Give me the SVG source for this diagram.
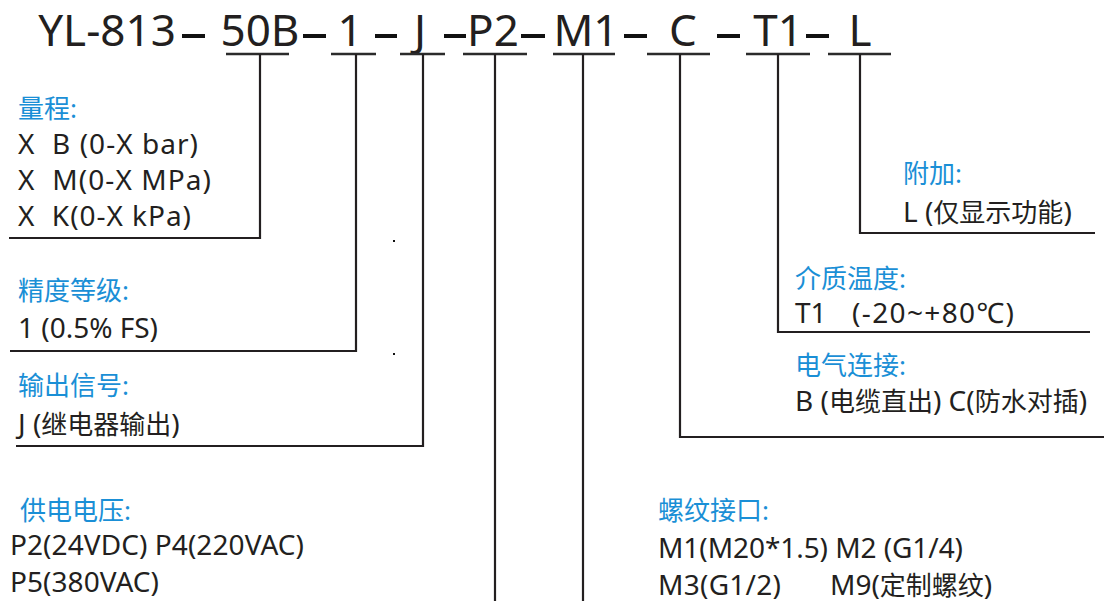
<svg xmlns="http://www.w3.org/2000/svg" width="1104" height="601" viewBox="0 0 1104 601">
<style>
.t{font-family:"Noto Sans","Noto Sans CJK SC",sans-serif;fill:#231f20}
.title{font-size:44px}
.h{font-family:"Noto Sans","Noto Sans CJK SC",sans-serif;fill:#1a8fd6;font-size:26px}
.b{font-size:28px}
.k{font-size:26px}
.u{stroke:#2b2b2b;stroke-width:2.5;fill:none}
.c{stroke:#231f20;stroke-width:2.2;fill:none}
.d{fill:#111}
</style>
<rect width="1104" height="601" fill="#fff"/>
<g id="code">
<text class="t title" x="107" y="46" text-anchor="middle">YL-813</text>
<text class="t title" x="260" y="46" text-anchor="middle">50B</text>
<text class="t title" x="350" y="46" text-anchor="middle">1</text>
<text class="t title" x="420" y="46" text-anchor="middle">J</text>
<text class="t title" x="493" y="46" text-anchor="middle">P2</text>
<text class="t title" x="586" y="46" text-anchor="middle">M1</text>
<text class="t title" x="683" y="46" text-anchor="middle">C</text>
<text class="t title" x="778" y="46" text-anchor="middle">T1</text>
<text class="t title" x="860" y="46" text-anchor="middle">L</text>
<rect class="d" x="182" y="34" width="23" height="4"/>
<rect class="d" x="303" y="34" width="23" height="4"/>
<rect class="d" x="375" y="34" width="22" height="4"/>
<rect class="d" x="444" y="34" width="22" height="4"/>
<rect class="d" x="521" y="34" width="24" height="4"/>
<rect class="d" x="624" y="34" width="23" height="4"/>
<rect class="d" x="717" y="34" width="23" height="4"/>
<rect class="d" x="806" y="34" width="23" height="4"/>
<path class="u" d="M226 54H289M331 54H376M400 54H445M463 54H527M553 54H615M647 54H710M746 54H810M828 54H891"/>
</g>
<g id="connectors">
<path class="c" d="M260 54V238H9"/>
<path class="c" d="M356 54V351H10"/>
<path class="c" d="M423 54V446H16"/>
<path class="c" d="M495 54V601"/>
<path class="c" d="M583 54V601"/>
<path class="c" d="M680 54V437H1104"/>
<path class="c" d="M778 54V332H1090"/>
<path class="c" d="M860 54V233H1095"/>
<rect class="d" x="393" y="240" width="2" height="2"/>
<rect class="d" x="393" y="353" width="2" height="2"/>
</g>
<g id="range">
<text class="h" x="18" y="118">量程:</text>
<text class="t b" x="18" y="154" xml:space="preserve" textLength="180" lengthAdjust="spacing">X  B (0-X bar)</text>
<text class="t b" x="18" y="190" xml:space="preserve" textLength="193" lengthAdjust="spacing">X  M(0-X MPa)</text>
<text class="t b" x="18" y="226" xml:space="preserve" textLength="173" lengthAdjust="spacing">X  K(0-X kPa)</text>
</g>
<g id="accuracy">
<text class="h" x="18" y="300">精度等级:</text>
<text class="t b" x="18" y="338" textLength="140" lengthAdjust="spacing">1 (0.5% FS)</text>
</g>
<g id="output">
<text class="h" x="18" y="395">输出信号:</text>
<text class="t b" x="18" y="434">J (<tspan class="k">继电器输出</tspan>)</text>
</g>
<g id="power">
<text class="h" x="20" y="520">供电电压:</text>
<text class="t b" x="10" y="555" textLength="294" lengthAdjust="spacing">P2(24VDC) P4(220VAC)</text>
<text class="t b" x="10" y="592" textLength="149" lengthAdjust="spacing">P5(380VAC)</text>
</g>
<g id="thread">
<text class="h" x="658" y="520">螺纹接口:</text>
<text class="t b" x="658" y="558" textLength="305" lengthAdjust="spacing">M1(M20*1.5) M2 (G1/4)</text>
<text class="t b" x="658" y="595" textLength="123" lengthAdjust="spacing">M3(G1/2)</text>
<text class="t b" x="830" y="595">M9(<tspan class="k">定制螺纹</tspan>)</text>
</g>
<g id="electrical">
<text class="h" x="795" y="375">电气连接:</text>
<text class="t b" x="795" y="411">B (<tspan class="k">电缆直出</tspan>) C(<tspan class="k">防水对插</tspan>)</text>
</g>
<g id="temperature">
<text class="h" x="795" y="288">介质温度:</text>
<text class="t b" x="795" y="323">T1</text>
<text class="t b" x="852" y="323" textLength="162" lengthAdjust="spacing">(-20~+80℃)</text>
</g>
<g id="extra">
<text class="h" x="903" y="183">附加:</text>
<text class="t b" x="903" y="222">L (<tspan class="k">仅显示功能</tspan>)</text>
</g>
</svg>
